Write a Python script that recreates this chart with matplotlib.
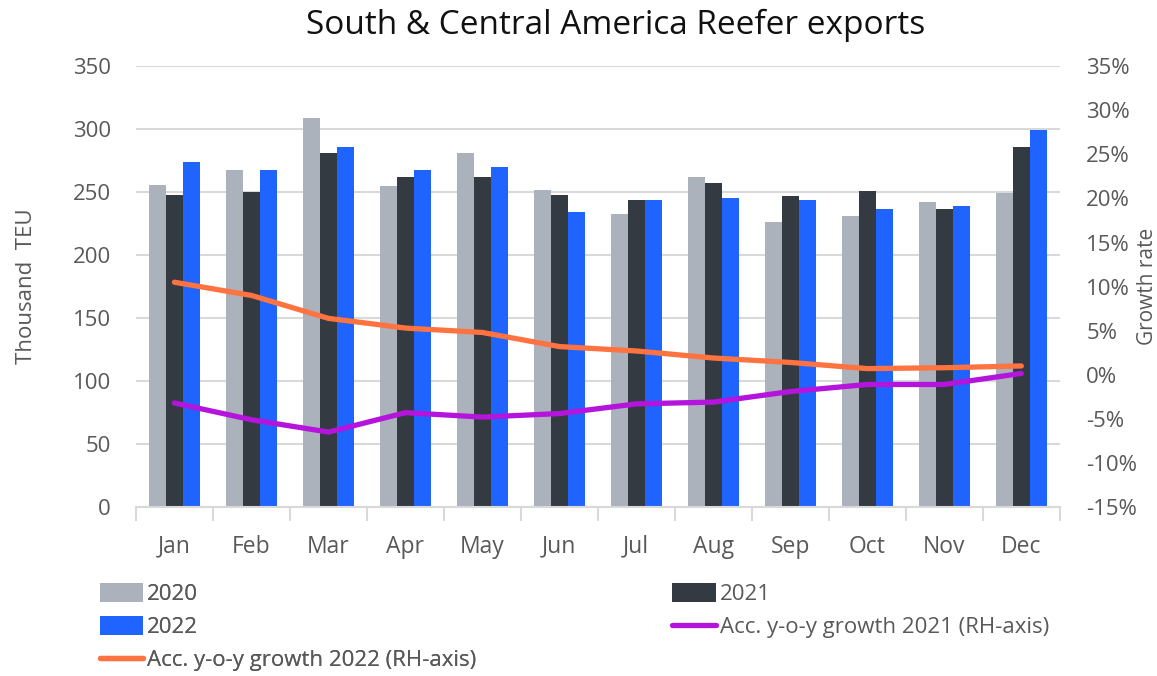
import numpy as np
import matplotlib
matplotlib.use("Agg")
import matplotlib.pyplot as plt
from matplotlib.ticker import FixedLocator, FuncFormatter

months = ["Jan", "Feb", "Mar", "Apr", "May", "Jun", "Jul", "Aug", "Sep", "Oct", "Nov", "Dec"]
teu_2020 = [256, 268, 309, 255, 281, 252, 233, 262, 226, 231, 242, 249]
teu_2021 = [248, 250, 281, 262, 262, 248, 244, 257, 247, 251, 237, 286]
teu_2022 = [274, 268, 286, 268, 270, 234, 244, 245, 244, 237, 239, 299]
growth_2021 = [-3.2, -5.1, -6.5, -4.3, -4.8, -4.4, -3.3, -3.1, -1.9, -1.1, -1.1, 0.15]
growth_2022 = [10.5, 9.0, 6.4, 5.3, 4.8, 3.2, 2.7, 1.9, 1.4, 0.7, 0.8, 1.0]

c2020 = "#abb2bc"
c2021 = "#343a41"
c2022 = "#1f64ff"
c_g21 = "#b414dc"
c_g22 = "#ff7340"
txt = "#595959"
grid_c = "#d9d9d9"

plt.rcParams['font.family'] = ['Open Sans', 'DejaVu Sans']

fig = plt.figure(figsize=(11.57, 6.76), dpi=100)
ax = fig.add_axes([0.1175, 0.25, 0.7985, 0.652])
ax2 = ax.twinx()

x = np.arange(len(months))
w = 0.22
b1 = ax.bar(x - w, teu_2020, w, color=c2020, zorder=2)
b2 = ax.bar(x, teu_2021, w, color=c2021, zorder=2)
b3 = ax.bar(x + w, teu_2022, w, color=c2022, zorder=2)

l21, = ax2.plot(x, growth_2021, color=c_g21, lw=3.8, solid_capstyle="round", zorder=3)
l22, = ax2.plot(x, growth_2022, color=c_g22, lw=3.8, solid_capstyle="round", zorder=3)

ax.set_xlim(-0.5, 11.5)
ax.set_ylim(0, 350)
ax.set_yticks(np.arange(0, 351, 50))
ax2.set_ylim(-15, 35)
ax2.set_yticks(np.arange(-15, 36, 5))
ax2.yaxis.set_major_formatter(FuncFormatter(lambda v, p: "%d%%" % v))

ax.yaxis.grid(True, color=grid_c, lw=1.5, zorder=0)
ax.set_axisbelow(True)
for a in (ax, ax2):
    for s in a.spines.values():
        s.set_visible(False)
ax.spines["bottom"].set_visible(True)
ax.spines["bottom"].set_color(grid_c)
ax.spines["bottom"].set_linewidth(1.5)

ax.set_xticks(x)
ax.set_xticklabels(months)
ax.xaxis.set_minor_locator(FixedLocator(np.arange(-0.5, 12, 1)))
ax.tick_params(axis="x", which="major", length=0, pad=20, labelsize=16.5, labelcolor=txt)
ax.tick_params(axis="x", which="minor", length=10, width=1.5, color=grid_c)
ax.tick_params(axis="y", length=0, pad=18, labelsize=16, labelcolor=txt)
ax2.tick_params(axis="y", length=0, pad=19, labelsize=16, labelcolor=txt)

ax.set_ylabel("Thousand  TEU", fontsize=16, color=txt, labelpad=26)
ax2.set_ylabel("Growth rate", fontsize=15, color=txt, labelpad=0)
fig.text(0.532, 0.963, "South & Central America Reefer exports", fontsize=24,
         color="#111111", ha="center", va="center")

leg_kw = dict(loc="upper left", frameon=False, fontsize=16, labelcolor=txt,
              handlelength=1.95, handleheight=0.9, handletextpad=0.2,
              labelspacing=0.5, borderaxespad=0, borderpad=0)
leg1 = fig.legend([b1, b3, l22], ["2020", "2022", "Acc. y-o-y growth 2022 (RH-axis)"],
                  bbox_to_anchor=(0.086, 0.137), **leg_kw)
fig.add_artist(leg1)
fig.legend([b2, l21], ["2021", "Acc. y-o-y growth 2021 (RH-axis)"],
           bbox_to_anchor=(0.581, 0.137), **leg_kw)

fig.savefig("out.png", dpi=100)
